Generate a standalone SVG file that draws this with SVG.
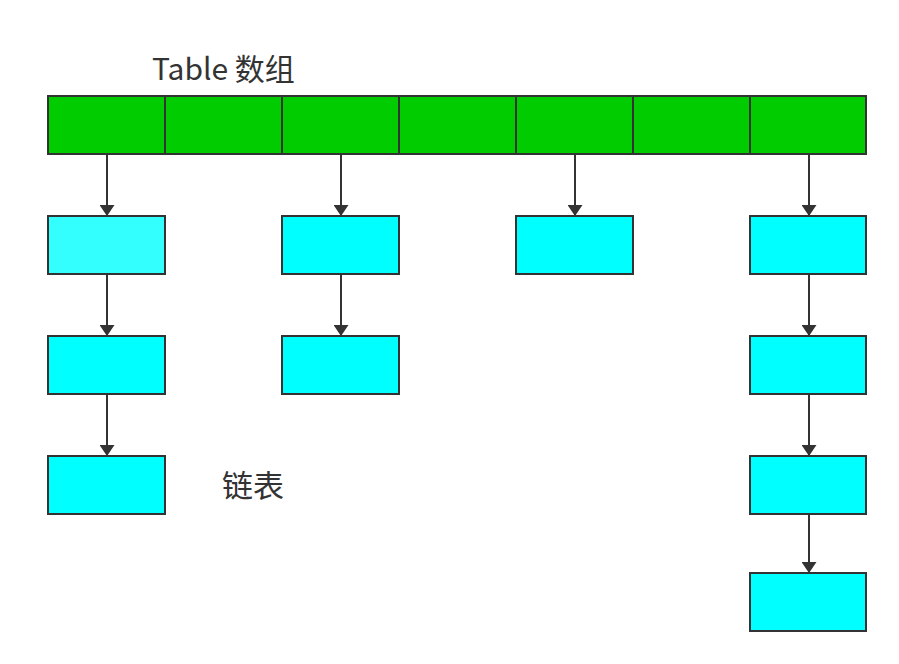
<svg xmlns="http://www.w3.org/2000/svg" width="899" height="664" viewBox="0 0 899 664">
<defs>
<style>
.cell{fill:#00cc00;stroke:#333;stroke-width:2}
.node{fill:#00ffff;stroke:#333;stroke-width:2}
.light{fill:#33ffff}
.edge{stroke:#333;stroke-width:2;fill:none;marker-end:url(#ah)}
.lbl{font-family:"Noto Sans CJK SC","Noto Sans",sans-serif;font-size:30px;fill:#333}
</style>
<marker id="ah" markerWidth="11" markerHeight="15" refX="10" refY="7.5" orient="auto" markerUnits="userSpaceOnUse" viewBox="0 0 11 15">
<path d="M0,0 L11,7.5 L0,15 Z" fill="#333"/>
</marker>
</defs>
<rect width="899" height="664" fill="#fff"/>
<text class="lbl" x="152" y="80">Table 数组</text>
<text class="lbl" x="222" y="497" style="font-size:31px">链表</text>
<g id="table">
<rect class="cell" x="48" y="96" width="117" height="58"/>
<rect class="cell" x="165" y="96" width="117" height="58"/>
<rect class="cell" x="282" y="96" width="117" height="58"/>
<rect class="cell" x="399" y="96" width="117" height="58"/>
<rect class="cell" x="516" y="96" width="117" height="58"/>
<rect class="cell" x="633" y="96" width="117" height="58"/>
<rect class="cell" x="750" y="96" width="116" height="58"/>
</g>
<g id="n1a"><rect class="node light" x="48" y="216" width="117" height="58"/></g>
<g id="n1b"><rect class="node" x="48" y="336" width="117" height="58"/></g>
<g id="n1c"><rect class="node" x="48" y="456" width="117" height="58"/></g>
<g id="n2a"><rect class="node" x="282" y="216" width="117" height="58"/></g>
<g id="n2b"><rect class="node" x="282" y="336" width="117" height="58"/></g>
<g id="n3a"><rect class="node" x="516" y="216" width="117" height="58"/></g>
<g id="n4a"><rect class="node" x="750" y="216" width="116" height="58"/></g>
<g id="n4b"><rect class="node" x="750" y="336" width="116" height="58"/></g>
<g id="n4c"><rect class="node" x="750" y="456" width="116" height="58"/></g>
<g id="n4d"><rect class="node" x="750" y="573" width="116" height="58"/></g>
<g id="connectors">
<path class="edge" d="M107,155 V215"/>
<path class="edge" d="M107,275 V335"/>
<path class="edge" d="M107,395 V455"/>
<path class="edge" d="M341,155 V215"/>
<path class="edge" d="M341,275 V335"/>
<path class="edge" d="M575,155 V215"/>
<path class="edge" d="M809,155 V215"/>
<path class="edge" d="M809,275 V335"/>
<path class="edge" d="M809,395 V455"/>
<path class="edge" d="M809,515 V572"/>
</g>
</svg>
